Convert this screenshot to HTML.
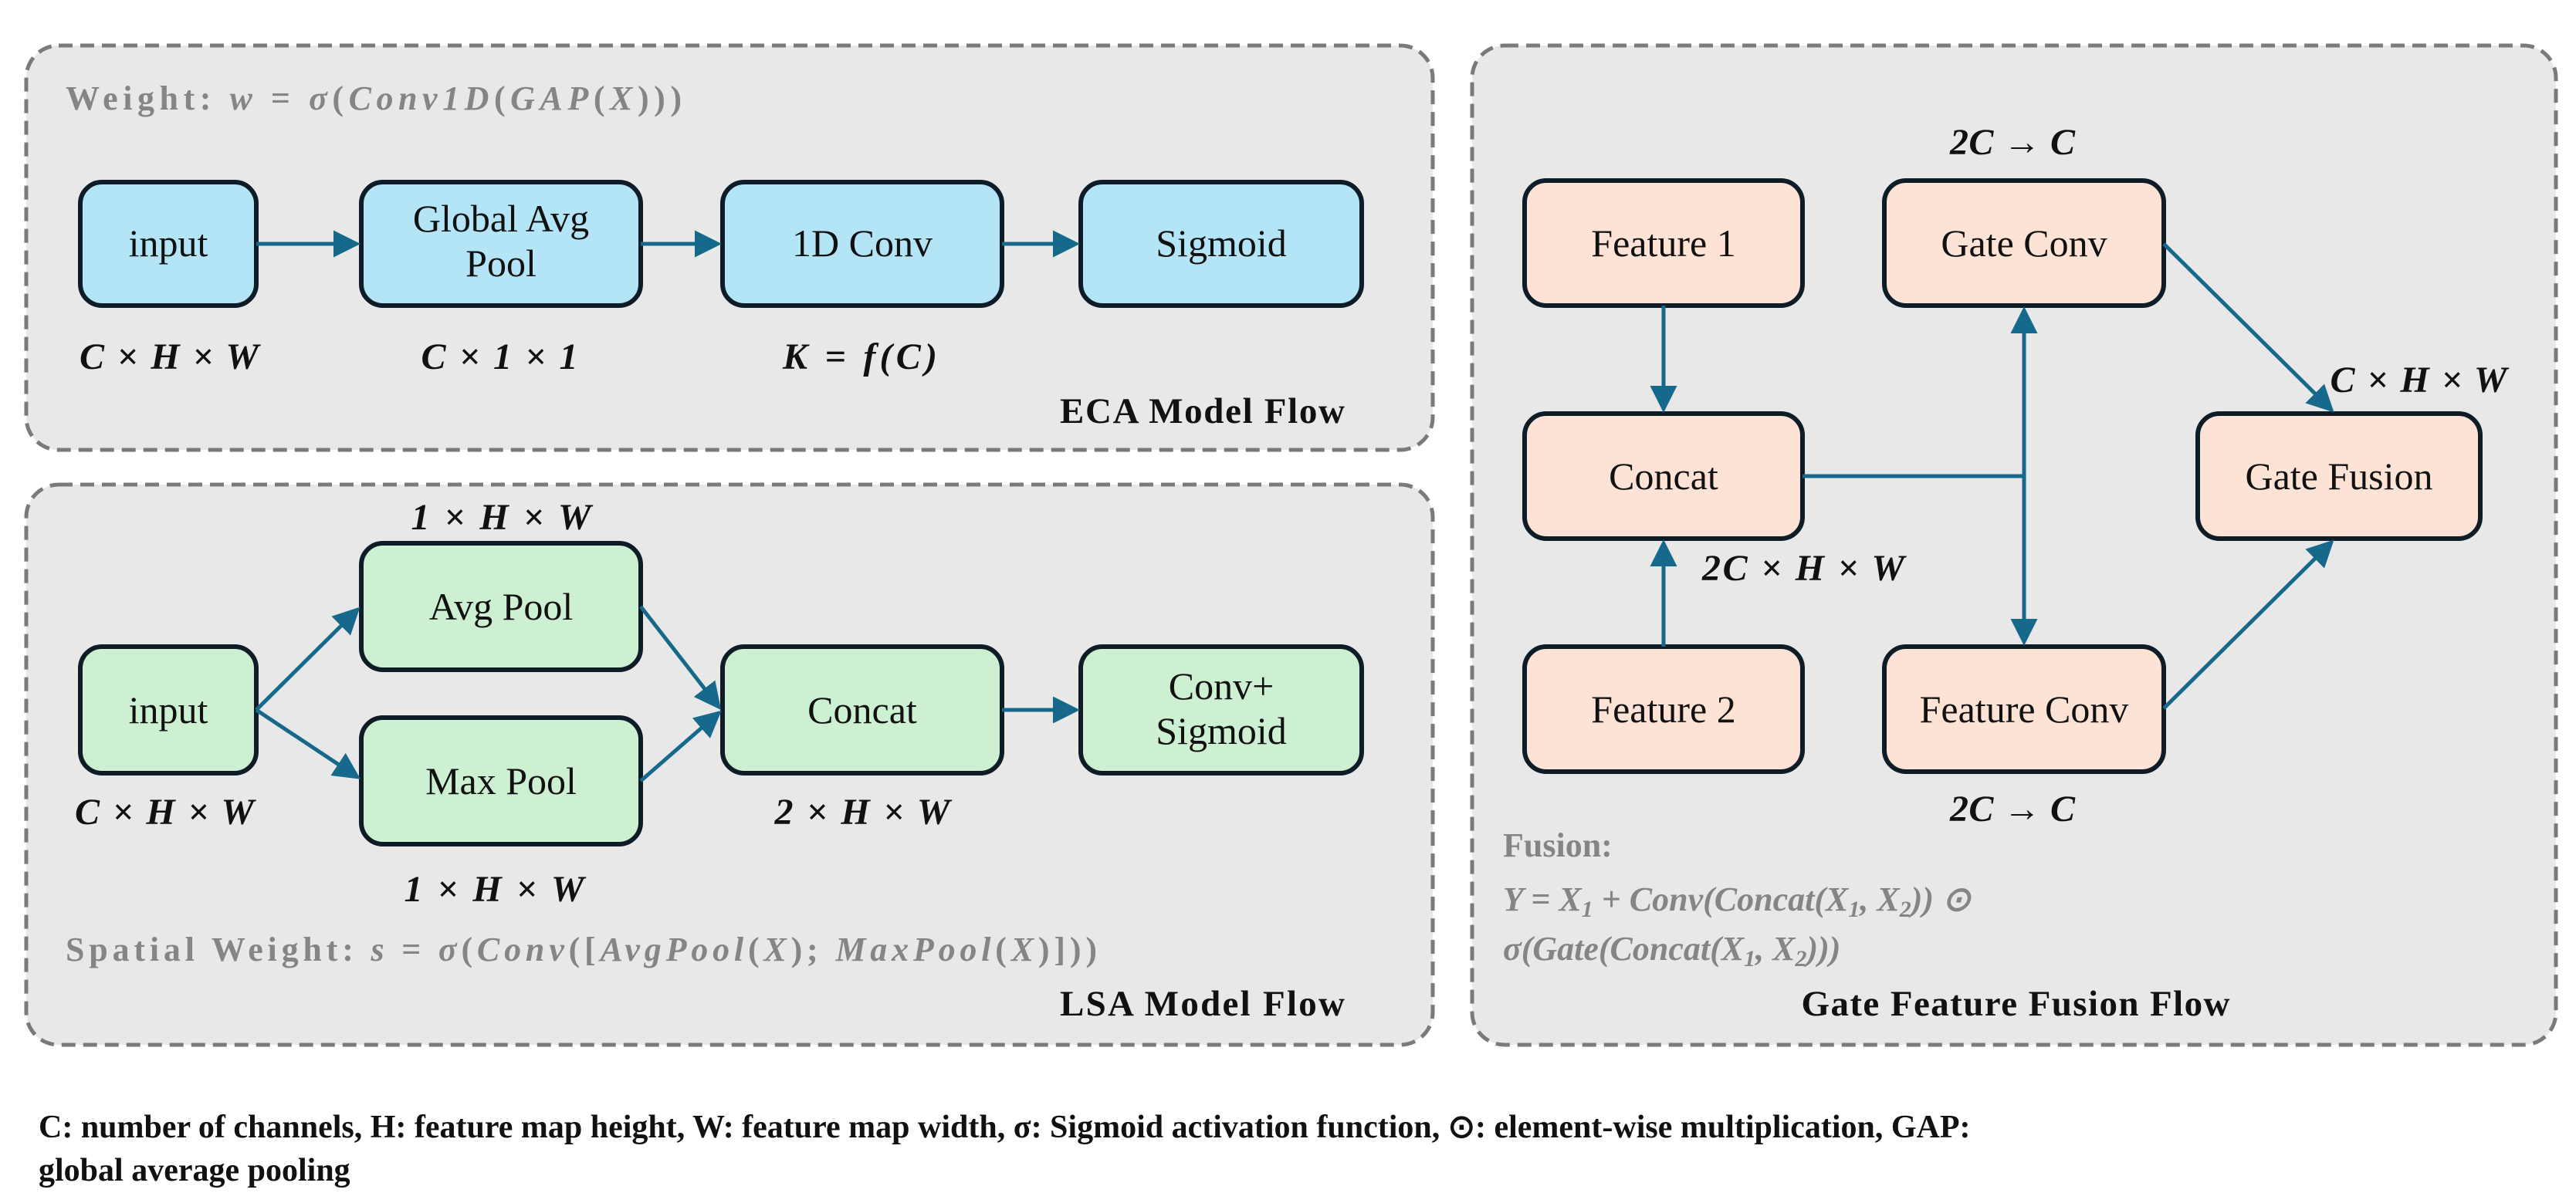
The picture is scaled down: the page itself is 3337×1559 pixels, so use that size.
<!DOCTYPE html>
<html><head><meta charset="utf-8"><style>
html,body{margin:0;padding:0;background:#fff;}
svg{display:block;}
.bx{font-family:"Liberation Serif",serif;font-size:50px;fill:#111;text-anchor:middle;}
.m{font-family:"Liberation Serif",serif;font-size:48px;font-weight:bold;font-style:italic;fill:#111;text-anchor:middle;}
.g{font-family:"Liberation Serif",serif;font-size:44px;font-weight:bold;fill:#858585;}
.t{font-family:"Liberation Serif",serif;font-size:47px;font-weight:bold;fill:#111;}
.f{font-family:"Liberation Serif",serif;font-size:42px;font-weight:bold;fill:#111;}
</style></head><body>
<svg width="3337" height="1559" viewBox="0 0 3337 1559" xmlns="http://www.w3.org/2000/svg">
<defs>
<marker id="a" markerWidth="8" markerHeight="8" refX="6" refY="4" orient="auto" markerUnits="strokeWidth"><path d="M0,0.5 L7,4 L0,7.5 z" fill="#17698b"/></marker>
</defs>
<g fill="#e8e8e8" stroke="#7a7a7a" stroke-width="5" stroke-dasharray="18,10">
<rect x="34" y="59" width="1822" height="524" rx="42"/>
<rect x="34" y="628" width="1822" height="726" rx="42"/>
<rect x="1907" y="59" width="1404" height="1295" rx="42"/>
</g>
<!-- ECA -->
<text class="g" x="85" y="142" textLength="798" lengthAdjust="spacing">Weight: <tspan font-style="italic">w</tspan> = <tspan font-style="italic">σ</tspan>(<tspan font-style="italic">Conv1D</tspan>(<tspan font-style="italic">GAP</tspan>(<tspan font-style="italic">X</tspan>)))</text>
<g stroke="#0e1c28" stroke-width="6" fill="#b3e5f6">
<rect x="104" y="236" width="228" height="160" rx="28"/>
<rect x="468" y="236" width="362" height="160" rx="28"/>
<rect x="936" y="236" width="362" height="160" rx="28"/>
<rect x="1400" y="236" width="364" height="160" rx="28"/>
</g>
<text class="bx" x="218" y="332">input</text>
<text class="bx" x="649" y="300">Global Avg</text>
<text class="bx" x="649" y="358">Pool</text>
<text class="bx" x="1117" y="332">1D Conv</text>
<text class="bx" x="1582" y="332">Sigmoid</text>
<g stroke="#17698b" stroke-width="5" fill="none" marker-end="url(#a)">
<line x1="332" y1="316" x2="462" y2="316"/>
<line x1="830" y1="316" x2="930" y2="316"/>
<line x1="1298" y1="316" x2="1394" y2="316"/>
</g>
<text class="m" x="219" y="478" textLength="232" lengthAdjust="spacing">C × H × W</text>
<text class="m" x="647" y="478" textLength="203" lengthAdjust="spacing">C × 1 × 1</text>
<text class="m" x="1114" y="478" textLength="200" lengthAdjust="spacing">K = f(C)</text>
<text class="t" x="1373" y="548" textLength="369" lengthAdjust="spacing">ECA Model Flow</text>
<!-- LSA -->
<text class="m" x="649" y="686" textLength="233" lengthAdjust="spacing">1 × H × W</text>
<g stroke="#0e1c28" stroke-width="6" fill="#cdf0d2">
<rect x="104" y="838" width="228" height="164" rx="28"/>
<rect x="468" y="704" width="362" height="164" rx="28"/>
<rect x="468" y="930" width="362" height="164" rx="28"/>
<rect x="936" y="838" width="362" height="164" rx="28"/>
<rect x="1400" y="838" width="364" height="164" rx="28"/>
</g>
<text class="bx" x="218" y="937">input</text>
<text class="bx" x="649" y="803">Avg Pool</text>
<text class="bx" x="649" y="1029">Max Pool</text>
<text class="bx" x="1117" y="937">Concat</text>
<text class="bx" x="1582" y="906">Conv+</text>
<text class="bx" x="1582" y="964">Sigmoid</text>
<g stroke="#17698b" stroke-width="5" fill="none" marker-end="url(#a)">
<line x1="332" y1="920" x2="463" y2="790"/>
<line x1="332" y1="920" x2="463" y2="1007"/>
<line x1="830" y1="786" x2="931" y2="916"/>
<line x1="830" y1="1012" x2="931" y2="924"/>
<line x1="1298" y1="920" x2="1394" y2="920"/>
</g>
<text class="m" x="213" y="1068" textLength="232" lengthAdjust="spacing">C × H × W</text>
<text class="m" x="1117" y="1068" textLength="227" lengthAdjust="spacing">2 × H × W</text>
<text class="m" x="640" y="1168" textLength="233" lengthAdjust="spacing">1 × H × W</text>
<text class="g" x="85" y="1245" textLength="1336" lengthAdjust="spacing">Spatial Weight: <tspan font-style="italic">s</tspan> = <tspan font-style="italic">σ</tspan>(<tspan font-style="italic">Conv</tspan>([<tspan font-style="italic">AvgPool</tspan>(<tspan font-style="italic">X</tspan>); <tspan font-style="italic">MaxPool</tspan>(<tspan font-style="italic">X</tspan>)]))</text>
<text class="t" x="1373" y="1316" textLength="369" lengthAdjust="spacing">LSA Model Flow</text>
<!-- Gate -->
<text class="m" x="2607" y="200" textLength="162" lengthAdjust="spacing">2C → C</text>
<g stroke="#0e1c28" stroke-width="6" fill="#fde3d5">
<rect x="1975" y="234" width="360" height="162" rx="28"/>
<rect x="2441" y="234" width="362" height="162" rx="28"/>
<rect x="1975" y="536" width="360" height="162" rx="28"/>
<rect x="2847" y="536" width="366" height="162" rx="28"/>
<rect x="1975" y="838" width="360" height="162" rx="28"/>
<rect x="2441" y="838" width="362" height="162" rx="28"/>
</g>
<text class="bx" x="2155" y="332">Feature 1</text>
<text class="bx" x="2622" y="332">Gate Conv</text>
<text class="bx" x="2155" y="634">Concat</text>
<text class="bx" x="3030" y="634">Gate Fusion</text>
<text class="bx" x="2155" y="936">Feature 2</text>
<text class="bx" x="2622" y="936">Feature Conv</text>
<g stroke="#17698b" stroke-width="5" fill="none">
<line x1="2155" y1="396" x2="2155" y2="530" marker-end="url(#a)"/>
<line x1="2155" y1="838" x2="2155" y2="704" marker-end="url(#a)"/>
<line x1="2335" y1="617" x2="2622" y2="617"/>
<line x1="2622" y1="617" x2="2622" y2="402" marker-end="url(#a)"/>
<line x1="2622" y1="617" x2="2622" y2="832" marker-end="url(#a)"/>
<line x1="2803" y1="316" x2="3020" y2="531" marker-end="url(#a)"/>
<line x1="2803" y1="918" x2="3020" y2="703" marker-end="url(#a)"/>
</g>
<text class="m" x="3133" y="508" textLength="229" lengthAdjust="spacing">C × H × W</text>
<text class="m" x="2336" y="752" textLength="262" lengthAdjust="spacing">2C × H × W</text>
<text class="m" x="2607" y="1064" textLength="162" lengthAdjust="spacing">2C → C</text>
<text class="g" x="1947" y="1110">Fusion:</text>
<text class="g" x="1947" y="1180" font-style="italic">Y = X<tspan font-size="30" dy="8">1</tspan><tspan dy="-8"> + Conv(Concat(X</tspan><tspan font-size="30" dy="8">1</tspan><tspan dy="-8">, X</tspan><tspan font-size="30" dy="8">2</tspan><tspan dy="-8">)) ⊙</tspan></text>
<text class="g" x="1947" y="1244" font-style="italic">σ(Gate(Concat(X<tspan font-size="30" dy="8">1</tspan><tspan dy="-8">, X</tspan><tspan font-size="30" dy="8">2</tspan><tspan dy="-8">)))</tspan></text>
<text class="t" x="2611" y="1316" text-anchor="middle" textLength="555" lengthAdjust="spacing">Gate Feature Fusion Flow</text>
<text class="f" x="50" y="1474">C: number of channels,  H: feature map height,  W: feature map width, σ: Sigmoid activation function, ⊙: element-wise multiplication, GAP:</text>
<text class="f" x="50" y="1530">global average pooling</text>
</svg>
</body></html>
